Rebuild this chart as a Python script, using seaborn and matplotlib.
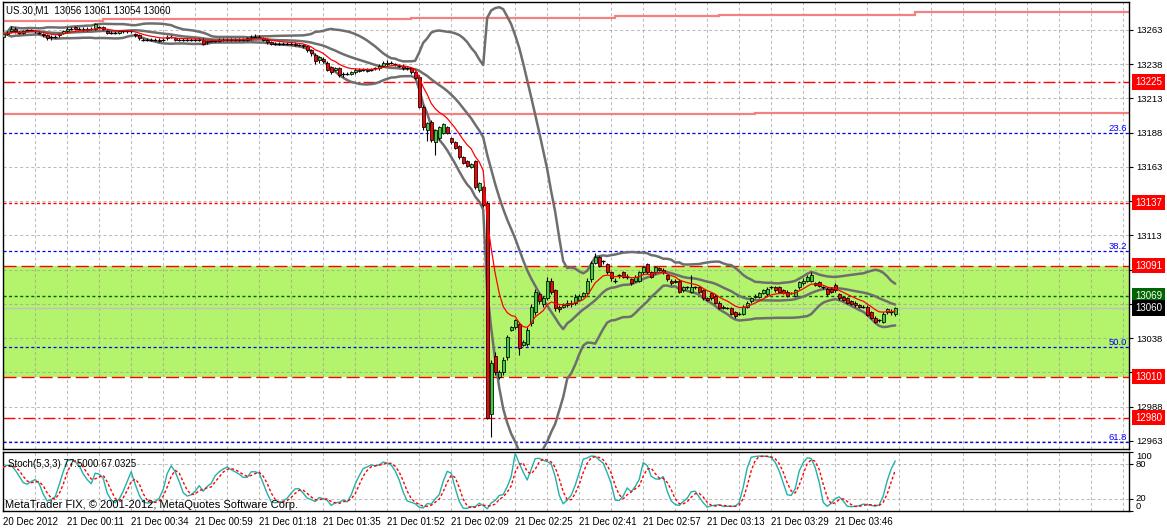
import numpy as np
import pandas as pd
import matplotlib
matplotlib.use("Agg")
import matplotlib.pyplot as plt
import matplotlib.transforms as mtransforms
import seaborn as sns

# ---------------- data (US.30, M1) ----------------
opens = [
    13258, 13260, 13262, 13264, 13261, 13261, 13263, 13263, 13262, 13261, 13260, 13259, 13258, 13258, 13259, 13261,
    13262, 13264, 13265, 13264, 13264, 13263, 13264, 13264, 13265, 13265, 13262, 13261, 13261, 13261, 13262, 13262,
    13262, 13260, 13259, 13256, 13256, 13256, 13256, 13256, 13256, 13257, 13258, 13257, 13256, 13256, 13256, 13256,
    13256, 13256, 13256, 13254, 13255, 13255, 13255, 13256, 13256, 13256, 13256, 13256, 13256, 13256, 13257, 13258,
    13258, 13257, 13256, 13254, 13253, 13253, 13253, 13253, 13253, 13253, 13252, 13252, 13251, 13248, 13245, 13241,
    13242, 13239, 13236, 13234, 13235, 13231, 13231, 13231, 13232, 13234, 13234, 13233, 13234, 13235, 13235, 13237,
    13238, 13239, 13238, 13237, 13237, 13235, 13235, 13232, 13229, 13207, 13190, 13196, 13181, 13184, 13188, 13192,
    13184, 13181, 13178, 13170, 13167, 13163, 13167, 13146, 13148, 13137, 12983, 13025, 13010, 13013, 13024, 13044,
    13046, 13048, 13033, 13034, 13049, 13057, 13070, 13063, 13067, 13080, 13073, 13061, 13061, 13062, 13064, 13064,
    13066, 13069, 13071, 13081, 13093, 13097, 13094, 13092, 13086, 13080, 13084, 13086, 13083, 13081, 13080, 13080,
    13086, 13092, 13086, 13086, 13089, 13088, 13084, 13080, 13080, 13080, 13073, 13075, 13072, 13075, 13075, 13073,
    13067, 13071, 13069, 13064, 13061, 13060, 13060, 13057, 13056, 13056, 13061, 13065, 13068, 13068, 13071, 13070,
    13075, 13075, 13075, 13073, 13072, 13071, 13069, 13075, 13078, 13080, 13080, 13078, 13079, 13075, 13074, 13074,
    13077, 13070, 13068, 13067, 13065, 13064, 13062, 13061, 13061, 13057, 13053, 13051, 13050, 13057, 13057, 13056,
]
closes = [
    13260, 13261, 13264, 13262, 13261, 13262, 13263, 13263, 13262, 13261, 13259, 13257, 13258, 13258, 13260, 13262,
    13264, 13264, 13264, 13264, 13263, 13264, 13264, 13267, 13265, 13264, 13261, 13261, 13261, 13262, 13262, 13262,
    13262, 13259, 13257, 13256, 13256, 13256, 13256, 13255, 13256, 13258, 13258, 13256, 13256, 13256, 13256, 13256,
    13256, 13256, 13253, 13255, 13255, 13255, 13256, 13256, 13256, 13256, 13256, 13256, 13256, 13257, 13258, 13258,
    13258, 13256, 13254, 13253, 13253, 13253, 13253, 13253, 13253, 13252, 13252, 13251, 13248, 13246, 13240, 13243,
    13240, 13234, 13232, 13235, 13230, 13231, 13231, 13232, 13234, 13233, 13234, 13234, 13234, 13235, 13237, 13239,
    13239, 13239, 13238, 13237, 13235, 13235, 13232, 13228, 13207, 13192, 13195, 13183, 13190, 13192, 13194, 13188,
    13181, 13177, 13170, 13166, 13164, 13165, 13148, 13151, 13135, 12980, 13020, 13013, 13013, 13022, 13039, 13046,
    13051, 13031, 13035, 13044, 13061, 13072, 13065, 13067, 13080, 13072, 13060, 13059, 13062, 13064, 13063, 13068,
    13069, 13071, 13080, 13093, 13097, 13091, 13094, 13086, 13082, 13080, 13084, 13083, 13083, 13078, 13083, 13086,
    13090, 13086, 13083, 13090, 13088, 13086, 13081, 13078, 13079, 13072, 13075, 13075, 13075, 13075, 13072, 13067,
    13066, 13067, 13064, 13060, 13060, 13060, 13056, 13054, 13056, 13061, 13064, 13067, 13069, 13071, 13073, 13074,
    13075, 13073, 13072, 13071, 13069, 13071, 13073, 13079, 13080, 13083, 13084, 13077, 13076, 13075, 13070, 13072,
    13073, 13067, 13066, 13064, 13063, 13062, 13061, 13061, 13055, 13053, 13050, 13051, 13056, 13059, 13057, 13060,
]
highs = [
    13261, 13262, 13266, 13265, 13262, 13263, 13264, 13264, 13263, 13262, 13261, 13260, 13259, 13259, 13261, 13263,
    13265, 13265, 13266, 13265, 13265, 13265, 13265, 13268, 13266, 13266, 13263, 13262, 13262, 13263, 13263, 13263,
    13263, 13261, 13260, 13257, 13257, 13257, 13257, 13257, 13257, 13259, 13259, 13258, 13257, 13257, 13257, 13257,
    13257, 13257, 13257, 13256, 13256, 13256, 13257, 13257, 13257, 13257, 13257, 13257, 13257, 13258, 13259, 13260,
    13259, 13258, 13257, 13255, 13254, 13254, 13254, 13254, 13254, 13254, 13253, 13253, 13252, 13249, 13246, 13244,
    13243, 13240, 13237, 13236, 13236, 13232, 13232, 13233, 13235, 13235, 13235, 13235, 13235, 13236, 13238, 13240,
    13241, 13240, 13239, 13238, 13238, 13236, 13236, 13233, 13230, 13208, 13196, 13197, 13191, 13193, 13195, 13193,
    13185, 13182, 13179, 13171, 13168, 13166, 13168, 13152, 13149, 13138, 13022, 13028, 13015, 13024, 13040, 13047,
    13052, 13050, 13037, 13046, 13063, 13074, 13072, 13069, 13083, 13082, 13074, 13062, 13064, 13066, 13066, 13070,
    13070, 13072, 13082, 13094, 13100, 13098, 13095, 13093, 13087, 13082, 13085, 13087, 13085, 13082, 13084, 13087,
    13091, 13093, 13087, 13091, 13090, 13089, 13085, 13081, 13081, 13081, 13076, 13076, 13084, 13076, 13076, 13074,
    13068, 13072, 13070, 13065, 13062, 13061, 13061, 13058, 13057, 13062, 13065, 13068, 13070, 13072, 13074, 13075,
    13076, 13076, 13076, 13074, 13073, 13072, 13074, 13080, 13082, 13084, 13086, 13079, 13080, 13076, 13075, 13075,
    13078, 13071, 13069, 13068, 13066, 13065, 13063, 13062, 13062, 13058, 13054, 13052, 13057, 13060, 13059, 13061,
]
lows = [
    13257, 13259, 13261, 13261, 13260, 13260, 13262, 13262, 13261, 13260, 13258, 13256, 13256, 13257, 13258, 13260,
    13261, 13263, 13263, 13263, 13262, 13262, 13263, 13263, 13264, 13263, 13260, 13260, 13260, 13260, 13261, 13261,
    13261, 13258, 13256, 13255, 13255, 13255, 13255, 13254, 13255, 13256, 13257, 13255, 13255, 13255, 13255, 13255,
    13255, 13255, 13252, 13253, 13254, 13254, 13254, 13255, 13255, 13255, 13255, 13255, 13255, 13255, 13256, 13257,
    13257, 13255, 13253, 13252, 13252, 13252, 13252, 13252, 13252, 13251, 13251, 13250, 13247, 13244, 13238, 13239,
    13239, 13233, 13231, 13233, 13229, 13229, 13230, 13230, 13231, 13232, 13233, 13232, 13233, 13234, 13234, 13236,
    13237, 13238, 13237, 13236, 13234, 13234, 13231, 13227, 13206, 13190, 13182, 13181, 13172, 13183, 13187, 13187,
    13180, 13176, 13169, 13165, 13163, 13162, 13147, 13145, 13134, 12979, 12966, 13011, 13008, 13011, 13022, 13043,
    13045, 13026, 13032, 13032, 13047, 13055, 13063, 13061, 13066, 13070, 13058, 13057, 13060, 13061, 13061, 13062,
    13065, 13068, 13070, 13079, 13092, 13090, 13092, 13085, 13080, 13078, 13082, 13082, 13081, 13077, 13079, 13079,
    13085, 13085, 13082, 13085, 13087, 13085, 13080, 13077, 13078, 13071, 13072, 13074, 13071, 13074, 13071, 13066,
    13065, 13066, 13063, 13059, 13059, 13059, 13055, 13053, 13055, 13055, 13060, 13064, 13067, 13067, 13070, 13069,
    13074, 13072, 13071, 13070, 13068, 13070, 13068, 13074, 13077, 13079, 13079, 13076, 13075, 13074, 13069, 13071,
    13072, 13066, 13065, 13063, 13062, 13061, 13060, 13060, 13054, 13052, 13049, 13050, 13049, 13056, 13055, 13054,
]

time_labels = ["20 Dec 2012", "21 Dec 00:11", "21 Dec 00:34", "21 Dec 00:59", "21 Dec 01:18",
               "21 Dec 01:35", "21 Dec 01:52", "21 Dec 02:09", "21 Dec 02:25", "21 Dec 02:41",
               "21 Dec 02:57", "21 Dec 03:13", "21 Dec 03:29", "21 Dec 03:46"]

price_ticks = [12963, 12988, 13013, 13038, 13063, 13088, 13113, 13138, 13163, 13188, 13213, 13238, 13263]
# labels that sit under the coloured price boxes are left blank (they are covered in the chart)
price_tick_labels = ["12963", "12988", "", "13038", "", "", "13113",
                     "", "13163", "13188", "13213", "13238", "13263"]

level_prices = [13225, 13137, 13091, 13069, 13060, 13010, 12980]
level_labels = ["13225", "13137", "13091", "13069", "13060", "13010", "12980"]

fib_prices = [13187.8, 13101.7, 13031.6, 12962.3]
fib_labels = ["23.6", "38.2", "50.0", "61.8"]

zone_bottom, zone_top = 13010, 13091

upper_channel_edges = [0, 25, 102, 153, 179, 228, 282]
upper_channel_prices = [13269.6, 13270.7, 13272.0, 13273.2, 13274.0, 13276.1]
lower_channel_edges = [0, 188, 282]
lower_channel_prices = [13201.7, 13202.6]

stoch_text = "Stoch(5,3,3) 77.5000 67.0325"
title_text = "US.30,M1  13056 13061 13054 13060"
copyright_text = "MetaTrader FIX, \u00a9 2001-2012, MetaQuotes Software Corp."

# ---------------- indicators ----------------
df = pd.DataFrame({"bar": np.arange(len(closes)), "open": opens, "high": highs,
                   "low": lows, "close": closes})
mid = df["close"].rolling(20, min_periods=1).mean()
sd = df["close"].rolling(20, min_periods=1).std(ddof=0).fillna(0)
df["bb_mid"] = mid
df["bb_up"] = mid + 2 * sd
df["bb_lo"] = mid - 2 * sd
df["ma"] = df["close"].ewm(span=9, adjust=False).mean()
ll = df["low"].rolling(5, min_periods=1).min()
hh = df["high"].rolling(5, min_periods=1).max()
num = (df["close"] - ll).rolling(3, min_periods=1).sum()
den = (hh - ll).rolling(3, min_periods=1).sum()
df["k"] = (100 * num / den.replace(0, np.nan)).fillna(50)
df["d"] = df["k"].rolling(3, min_periods=1).mean()

# ---------------- style ----------------
sns.set_theme(style="white")
plt.rcParams["font.family"] = ["Liberation Sans", "DejaVu Sans"]
plt.rcParams["lines.scale_dashes"] = False

W, H = 1167, 528
fig = plt.figure(figsize=(W / 100, H / 100), dpi=100)
fig.patch.set_facecolor("white")
ax = fig.add_axes([3 / W, 1 - 449 / H, 1126 / W, 447 / H])
ax2 = fig.add_axes([3 / W, 1 - 511 / H, 1126 / W, 59 / H])

XMAX = 281.45
for a in (ax, ax2):
    a.set_facecolor("white")
    a.set_xlim(-0.05, XMAX)
    a.set_axisbelow(True)
    for s in a.spines.values():
        s.set_color("black")
        s.set_linewidth(1.0)
        s.set_visible(True)

ax.set_ylim(12957.1, 13283.4)
ax2.set_ylim(-0.6, 100.6)

grid_kw = dict(color="#9a9a9a", alpha=0.65, linewidth=0.75, linestyle=(0, (2.2, 1.8)))

# main axes ticks / grid
ax.set_xticks(np.arange(0, 282, 8))
ax.tick_params(axis="x", length=0, labelbottom=False)
ax.yaxis.tick_right()
ax.set_yticks(price_ticks)
ax.set_yticklabels(price_tick_labels, fontsize=6.8, color="black")
ax.tick_params(axis="y", length=3, width=0.8, pad=2, colors="black", direction="out")
ax.grid(True, **grid_kw)

# zone
zone_color = "#b4f46c"
ax.axhspan(zone_bottom, zone_top, color=zone_color, lw=0, zorder=0)

# level lines
dashdot = (0, (8.6, 2.2, 1.4, 2.2))
dashed = (0, (9.4, 3.6))
dotted = (0, (2.2, 1.8))
level_styles = {
    "13225": ("#ff0000", dashdot, "#ff0000"),
    "13137": ("#ff0000", dotted, "#ff0000"),
    "13091": ("#ff0000", dashed, "#ff0000"),
    "13069": ("#006400", dotted, "#006400"),
    "13060": ("#c0c0c0", "-", "#000000"),
    "13010": ("#ff0000", dashed, "#ff0000"),
    "12980": ("#ff0000", dashdot, "#ff0000"),
}
for p, lbl in zip(level_prices, level_labels):
    c, ls, box = level_styles[lbl]
    ax.axhline(p, color=c, linestyle=ls, linewidth=1.0, zorder=1.5)

for p in fib_prices:
    ax.axhline(p, color="#0000ff", linestyle=dotted, linewidth=0.9, zorder=1.5)

# channel step lines
ax.stairs(upper_channel_prices, upper_channel_edges, baseline=None,
          color="#f48080", linewidth=1.6, zorder=2)
ax.stairs(lower_channel_prices, lower_channel_edges, baseline=None,
          color="#f48080", linewidth=1.6, zorder=2)

# Bollinger bands (seaborn)
for col in ["bb_up", "bb_mid", "bb_lo"]:
    sns.lineplot(data=df, x="bar", y=col, ax=ax, color="#6e6e6e", linewidth=1.8,
                 zorder=3, estimator=None)

# candles
o = df["open"].to_numpy(float)
c = df["close"].to_numpy(float)
h = df["high"].to_numpy(float)
l = df["low"].to_numpy(float)
x = df["bar"].to_numpy(float)
ax.vlines(x, l, h, color="black", linewidth=0.8, zorder=4)
body = o != c
face = np.where(c > o, "#3cd03c", "#ff0000")
ax.bar(x[body], np.abs(c - o)[body], bottom=np.minimum(o, c)[body], width=0.78,
       color=face[body], edgecolor="black", linewidth=0.55, zorder=5)
ax.hlines(c[~body], x[~body] - 0.45, x[~body] + 0.45, color="black", linewidth=0.9, zorder=5)

# moving average
sns.lineplot(data=df, x="bar", y="ma", ax=ax, color="#ff0000", linewidth=0.9,
             zorder=6, estimator=None)
ax.set_xlabel("")
ax.set_ylabel("")

# right-side price labels
blend = mtransforms.blended_transform_factory(ax.transAxes, ax.transData)
for p, lbl in zip(level_prices, level_labels):
    _, _, box = level_styles[lbl]
    ax.annotate(lbl, xy=(1, p), xycoords=blend, xytext=(4.3, 0), textcoords="offset points",
                ha="left", va="center", fontsize=7, color="white", zorder=10,
                annotation_clip=False,
                bbox=dict(boxstyle="square,pad=0.28", fc=box, ec="none"))

for p, lbl in zip(fib_prices, fib_labels):
    ax.text(0.998, p, lbl, transform=blend, ha="right", va="bottom", fontsize=6.8,
            color="#0000ff", zorder=7)

ax.text(0.003, 0.982, title_text, transform=ax.transAxes, ha="left", va="center",
        fontsize=7, color="black", zorder=8)

# ---------------- stochastic panel ----------------
sns.lineplot(data=df, x="bar", y="k", ax=ax2, color="#20b2aa", linewidth=1.0,
             zorder=3, estimator=None)
sns.lineplot(data=df, x="bar", y="d", ax=ax2, color="#ff0000", linewidth=1.0,
             linestyle=(0, (2.0, 1.6)), zorder=4, estimator=None)
ax2.set_xlabel("")
ax2.set_ylabel("")

label_pos = np.arange(0, 16 * len(time_labels), 16)
ax2.set_xticks(label_pos)
ax2.set_xticklabels(time_labels, fontsize=7, color="black", ha="left")
ax2.set_xticks(np.arange(0, 282, 8), minor=True)
ax2.tick_params(axis="x", which="major", length=3, width=0.8, pad=1.5, colors="black",
                direction="out")
ax2.tick_params(axis="x", which="minor", length=0)
ax2.xaxis.grid(True, which="both", **grid_kw)

ax2.yaxis.tick_right()
ax2.set_yticks([0, 20, 80, 100])
ax2.set_yticklabels(["0", "20", "80", "100"], fontsize=6.8, color="black")
for lbl, va in zip(ax2.get_yticklabels(), ["bottom", "center", "center", "top"]):
    lbl.set_verticalalignment(va)
ax2.tick_params(axis="y", length=3, width=0.8, pad=2, colors="black", direction="out")
for lvl in (20, 80):
    ax2.axhline(lvl, zorder=1, **grid_kw)

ax2.text(0.0045, 0.80, stoch_text, transform=ax2.transAxes, ha="left", va="center",
         fontsize=7, color="black", zorder=8)
ax2.text(0.002, 0.11, copyright_text, transform=ax2.transAxes, ha="left", va="center",
         fontsize=8, color="black", zorder=8)

fig.savefig("out.png", dpi=100, facecolor="white")
